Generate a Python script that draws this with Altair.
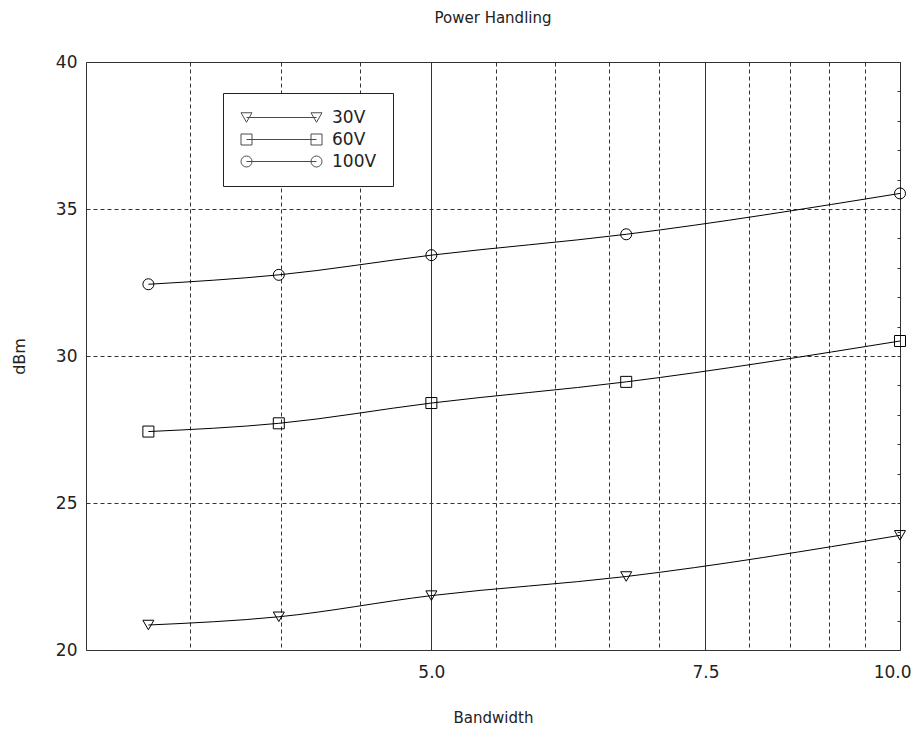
import altair as alt
import pandas as pd

# ---- data ----
bandwidth = [3.29, 3.99, 5.0, 6.67, 10.0]
v30 = [20.85, 21.13, 21.85, 22.5, 23.9]
v60 = [27.43, 27.71, 28.4, 29.12, 30.51]
v100 = [32.44, 32.76, 33.43, 34.14, 35.53]
series_names = ["30V", "60V", "100V"]

x_grid_values = [3.5, 4.0, 4.5, 5.0, 5.5, 6.0, 6.5, 7.0, 7.5, 8.0, 8.5, 9.0, 9.5, 10.0]
x_label_values = [5.0, 7.5, 10.0]
y_tick_values = [20, 25, 30, 35, 40]
y_minor_values = list(range(21, 40))

rows = []
for name, vals in zip(series_names, [v30, v60, v100]):
    for xv, yv in zip(bandwidth, vals):
        rows.append({"series": name, "bandwidth": xv, "dbm": yv})
df = pd.DataFrame(rows)

FONT = "DejaVu Sans"
TXT = "#222222"
GRID = "#333333"

# legend symbols: marker - line - marker (custom SVG paths, unit = sqrt(size)/2 px)
tri = "M-8.1,-0.95L-5.9,-0.95L-7,0.95Z M5.9,-0.95L8.1,-0.95L7,0.95Z M-7,0L7,0"
sq = "M-8.1,-1.1L-5.9,-1.1L-5.9,1.1L-8.1,1.1Z M5.9,-1.1L8.1,-1.1L8.1,1.1L5.9,1.1Z M-7,0L7,0"
circ = ("M-5.9,0A1.1,1.1,0,1,1,-8.1,0A1.1,1.1,0,1,1,-5.9,0Z "
        "M8.1,0A1.1,1.1,0,1,1,5.9,0A1.1,1.1,0,1,1,8.1,0Z M-7,0L7,0")
legend_paths = [tri, sq, circ]

x_scale = alt.Scale(type="log", domain=[3, 10], nice=False, zero=False)
y_scale = alt.Scale(domain=[20, 40], nice=False, zero=False)

label_test = " || ".join(f"datum.value == {v}" for v in x_label_values)

x_axis = alt.Axis(
    values=x_grid_values,
    labelExpr=f"({label_test}) ? format(datum.value, '.1f') : ''",
    labelOverlap=False,
    labelFlush=True, labelFlushOffset=11,
    labelPadding=14,
    labelFont=FONT, labelFontSize=17, labelColor=TXT,
    ticks=False, domain=False,
    grid=True, gridColor=GRID, gridWidth=1,
    gridDash={"condition": {"test": "datum.value == 5 || datum.value == 7.5", "value": []}, "value": [4, 3]},
    title="Bandwidth", titleFont=FONT, titleFontSize=15, titleFontWeight="normal", titleColor=TXT,
    titleY=67, titleBaseline="middle",
)
y_axis = alt.Axis(
    values=y_tick_values,
    labelPadding=9,
    labelFont=FONT, labelFontSize=17, labelColor=TXT,
    ticks=False, domain=False,
    grid=True, gridColor=GRID, gridWidth=1, gridDash=[4, 3],
    title="dBm", titleFont=FONT, titleFontSize=16, titleFontWeight="normal", titleColor=TXT,
    titleX=-67, titleY=294, titleAngle=270, titleBaseline="middle",
)

lines = alt.Chart(df).mark_line(color="black", strokeWidth=1, interpolate="monotone").encode(
    x=alt.X("bandwidth:Q", scale=x_scale, axis=x_axis),
    y=alt.Y("dbm:Q", scale=y_scale, axis=y_axis),
    detail="series:N",
)

points = alt.Chart(df).mark_point(filled=False, color="black", size=121, strokeWidth=1, opacity=1).encode(
    x=alt.X("bandwidth:Q", scale=x_scale, axis=x_axis),
    y=alt.Y("dbm:Q", scale=y_scale, axis=None),
    shape=alt.Shape("series:N",
                    scale=alt.Scale(domain=series_names, range=["triangle-down", "square", "circle"]),
                    legend=None),
)

legend_layer = alt.Chart(df).transform_filter("false").mark_point(filled=False, color="black").encode(
    x=alt.X("bandwidth:Q", scale=x_scale, axis=x_axis),
    y=alt.Y("dbm:Q", scale=y_scale,
            axis=alt.Axis(orient="right", values=y_minor_values, labels=False, domain=False,
                          grid=False, ticks=True, tickSize=3, tickColor=GRID, offset=-3, title=None)),
    shape=alt.Shape("series:N",
                    scale=alt.Scale(domain=series_names, range=legend_paths),
                    legend=alt.Legend(
                        orient="none", legendX=137, legendY=31, title=None,
                        strokeColor="#222222", fillColor="white", padding=16,
                        symbolSize=100, symbolStrokeColor="black", symbolFillColor="transparent",
                        symbolStrokeWidth=1, symbolOffset=34,
                        labelFont=FONT, labelFontSize=17, labelColor=TXT, labelOffset=42,
                        rowPadding=4,
                    )),
)

chart = alt.layer(lines, points, legend_layer).resolve_scale(
    shape="independent"
).resolve_axis(
    y="independent"
).properties(
    width=814, height=588,
    autosize=alt.AutoSizeParams(type="none"),
    padding={"left": 78, "top": 54, "right": 11, "bottom": 76},
    title=alt.TitleParams("Power Handling", font=FONT, fontSize=15, fontWeight="normal",
                          color=TXT, anchor="middle", frame="group", offset=12, baseline="bottom"),
).configure_view(
    stroke="#333333", strokeWidth=1
)

chart.save("out.html", embed_options={"renderer": "svg", "actions": False})
